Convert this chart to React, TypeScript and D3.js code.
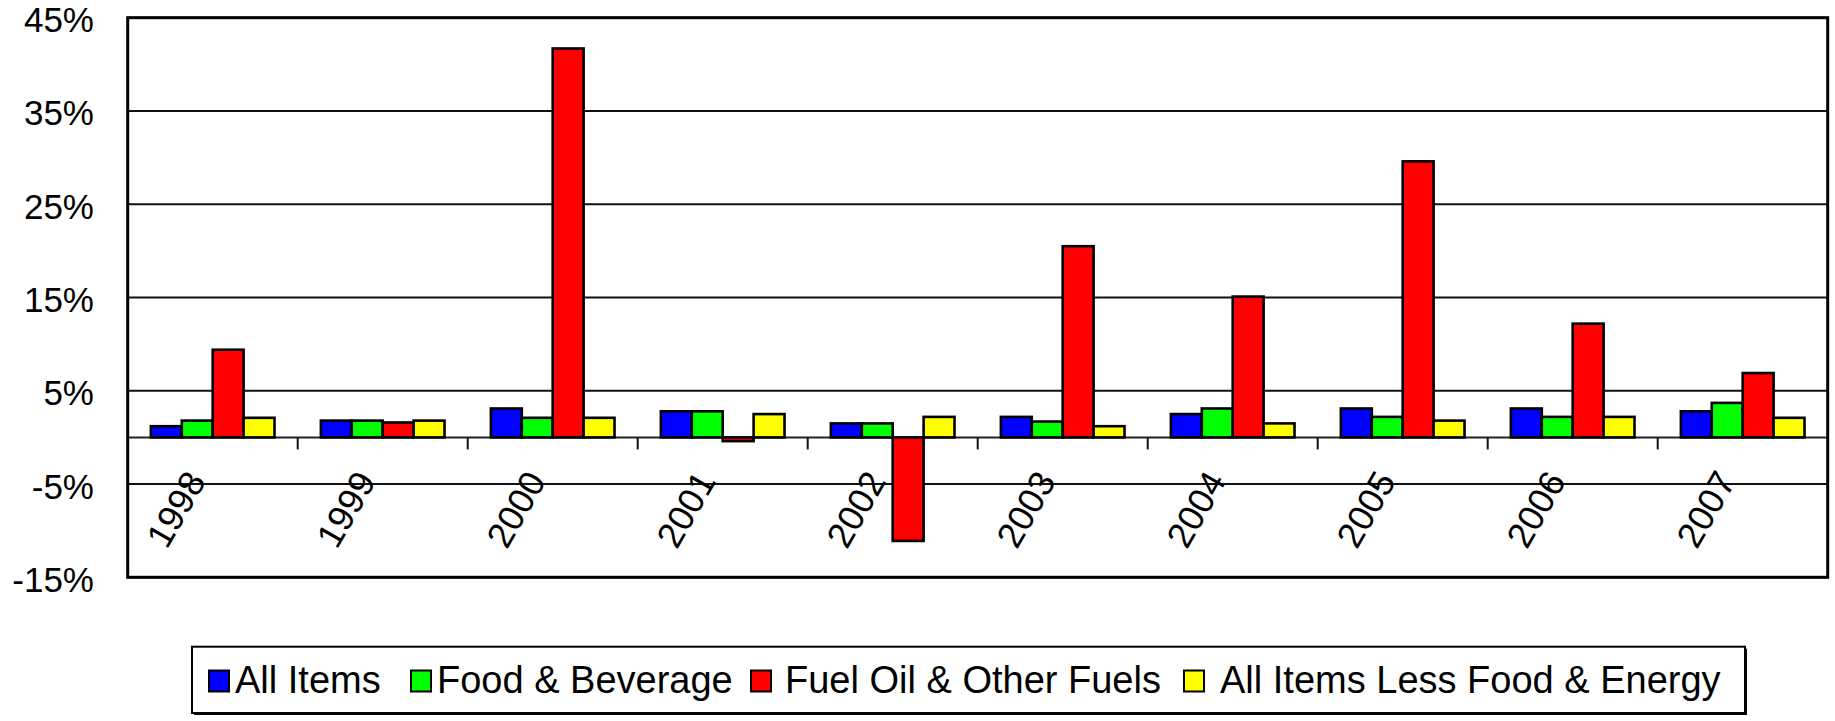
import React from 'react';
import * as d3 from 'd3';

const categories = ['1998', '1999', '2000', '2001', '2002', '2003', '2004', '2005', '2006', '2007'];
const seriesNames = ['All Items', 'Food & Beverage', 'Fuel Oil & Other Fuels', 'All Items Less Food & Energy'];
const allItems = [1.2, 1.8, 3.1, 2.8, 1.5, 2.2, 2.5, 3.1, 3.1, 2.8];
const foodBeverage = [1.8, 1.8, 2.1, 2.8, 1.5, 1.7, 3.1, 2.2, 2.2, 3.7];
const fuelOil = [9.4, 1.6, 41.7, -0.4, -11.1, 20.5, 15.1, 29.6, 12.2, 6.9];
const coreItems = [2.1, 1.8, 2.1, 2.5, 2.2, 1.2, 1.5, 1.8, 2.2, 2.1];
const seriesColors = ['#0000FF', '#00FF00', '#FF0000', '#FFFF00'];
const yTicks = [-15, -5, 5, 15, 25, 35, 45];

const FONT = "'Liberation Sans', Arial, Helvetica, sans-serif";

export default function App() {
  const W = 1835;
  const H = 721;
  const left = 127.7;
  const right = 1827.7;
  const top = 17.7;
  const bottom = 577.3;

  const seriesValues = [allItems, foodBeverage, fuelOil, coreItems];

  const x = d3.scaleBand<string>().domain(categories).range([left, right]).paddingInner(0).paddingOuter(0);
  const band = x.bandwidth();
  const bw = band / 5.5;
  const xs = d3
    .scaleBand<string>()
    .domain(seriesNames)
    .range([(band - 4 * bw) / 2, (band + 4 * bw) / 2]);
  const y = d3.scaleLinear().domain([-15, 45]).range([bottom, top]);
  const y0 = y(0);

  // legend layout
  const legSwatchX = [209, 411, 751, 1184];
  const legTextX = [235, 437, 785, 1220];

  return (
    <svg
      width={W}
      height={H}
      style={{ position: 'absolute', left: 0, top: 0, background: '#fff' }}
      fontFamily={FONT}
    >
      <rect x={0} y={0} width={W} height={H} fill="#fff" />
      {/* gridlines */}
      {yTicks.map((t) => (
        <line key={'g' + t} x1={left} x2={right} y1={y(t)} y2={y(t)} stroke="#111" strokeWidth={2} />
      ))}
      {/* zero axis */}
      <line x1={left} x2={right} y1={y0} y2={y0} stroke="#222" strokeWidth={2} />
      {/* category tick marks */}
      {categories.slice(1).map((c) => (
        <line
          key={'t' + c}
          x1={x(c) as number}
          x2={x(c) as number}
          y1={y0}
          y2={y0 + 12}
          stroke="#111"
          strokeWidth={2}
        />
      ))}
      {/* bars */}
      {seriesNames.map((s, si) =>
        categories.map((c, ci) => {
          const v = seriesValues[si][ci];
          const bx = (x(c) as number) + (xs(s) as number);
          const yTop = Math.min(y(v), y0);
          const h = Math.abs(y(v) - y0);
          return (
            <rect
              key={s + c}
              x={bx}
              y={yTop}
              width={xs.bandwidth()}
              height={h}
              fill={seriesColors[si]}
              stroke="#000"
              strokeWidth={2.6}
            />
          );
        })
      )}
      {/* plot border */}
      <rect x={left} y={top} width={right - left} height={bottom - top} fill="none" stroke="#000" strokeWidth={3} />
      {/* y labels */}
      {yTicks.map((t) => (
        <text key={'yl' + t} x={94} y={y(t) + 14.5} textAnchor="end" fontSize={35} fill="#000">
          {t + '%'}
        </text>
      ))}
      {/* x labels */}
      {categories.map((c) => {
        const cx = (x(c) as number) + band / 2 - 6;
        const cy = 481;
        return (
          <text
            key={'xl' + c}
            x={cx}
            y={cy}
            textAnchor="end"
            fontSize={36}
            fill="#000"
            transform={`rotate(-60, ${cx}, ${cy})`}
          >
            {c}
          </text>
        );
      })}
      {/* legend */}
      <rect x={194} y={648.7} width={1553} height={66.3} fill="#000" />
      <rect x={192} y={646.7} width={1553} height={66.3} fill="#fff" stroke="#000" strokeWidth={2} />
      {seriesNames.map((s, i) => (
        <g key={'lg' + s}>
          <rect x={legSwatchX[i]} y={670.5} width={20} height={21} fill={seriesColors[i]} stroke="#000" strokeWidth={2} />
          <text x={legTextX[i]} y={693.3} fontSize={38} fill="#000">
            {s}
          </text>
        </g>
      ))}
    </svg>
  );
}
